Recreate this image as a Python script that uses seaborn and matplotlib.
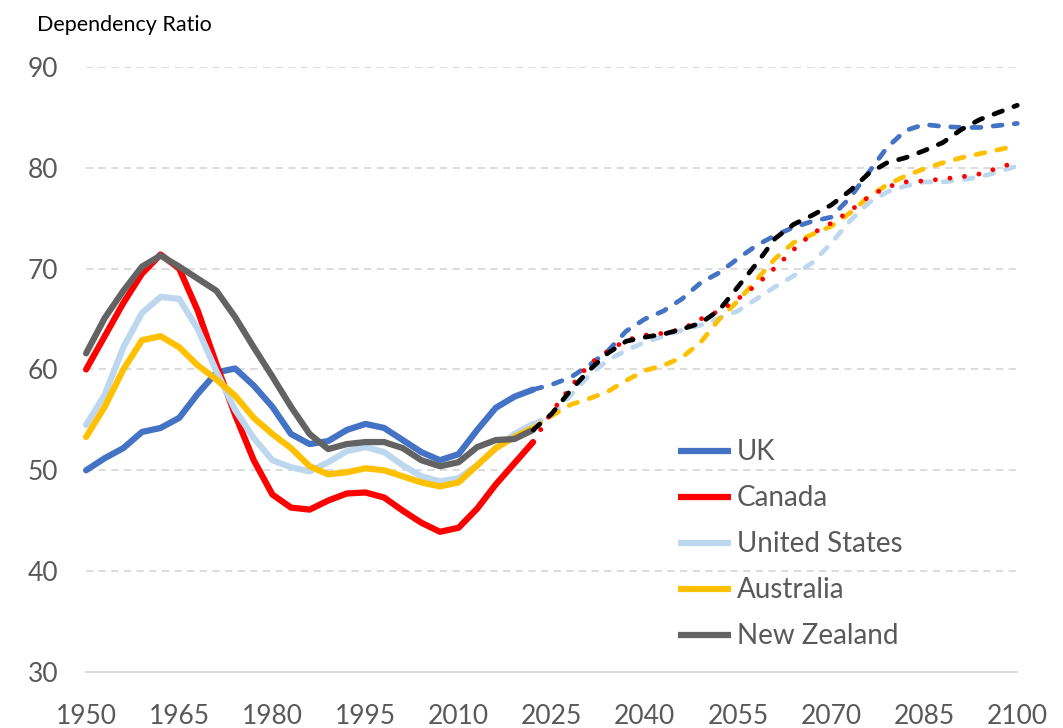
import seaborn as sns
import pandas as pd
import matplotlib as mpl
from matplotlib import pyplot as plt
from matplotlib.lines import Line2D

# historical values (solid lines)
hist_years = [1950, 1953, 1956, 1959, 1962, 1965, 1968, 1971, 1974, 1977, 1980, 1983, 1986,
              1989, 1992, 1995, 1998, 2001, 2004, 2007, 2010, 2013, 2016, 2019, 2022]
uk_hist = [50.0, 51.2, 52.2, 53.8, 54.2, 55.2, 57.6, 59.7, 60.1, 58.4, 56.3, 53.6, 52.6,
           52.9, 54.0, 54.6, 54.2, 53.0, 51.8, 51.0, 51.6, 54.0, 56.2, 57.3, 58.0]
canada_hist = [60.0, 63.3, 66.6, 69.5, 71.4, 70.0, 65.8, 60.5, 55.5, 51.0, 47.6, 46.3, 46.1,
               47.0, 47.7, 47.8, 47.3, 46.0, 44.8, 43.9, 44.3, 46.2, 48.6, 50.7, 52.8]
us_hist = [54.5, 57.5, 62.2, 65.6, 67.2, 67.0, 64.0, 59.8, 56.0, 53.2, 51.0, 50.3, 49.9,
           50.8, 51.9, 52.3, 51.8, 50.5, 49.4, 48.9, 49.2, 50.5, 52.2, 53.6, 54.6]
aus_hist = [53.3, 56.3, 60.0, 62.9, 63.3, 62.2, 60.4, 59.0, 57.4, 55.2, 53.6, 52.2, 50.4,
            49.6, 49.8, 50.2, 50.0, 49.4, 48.8, 48.4, 48.8, 50.5, 52.2, 53.3, 54.2]
nz_hist = [61.6, 65.1, 67.8, 70.2, 71.3, 70.2, 69.0, 67.8, 65.2, 62.2, 59.3, 56.3, 53.6,
           52.1, 52.6, 52.8, 52.8, 52.2, 51.0, 50.4, 50.8, 52.3, 53.0, 53.1, 54.0]

# projections (dashed / dotted lines)
proj_years = [2022, 2025, 2028, 2031, 2034, 2037, 2040, 2043, 2046, 2049, 2052, 2055, 2058, 2061,
              2064, 2067, 2070, 2073, 2076, 2079, 2082, 2085, 2088, 2091, 2094, 2097, 2100]
uk_proj = [58.0, 58.5, 59.2, 60.4, 61.8, 63.8, 65.0, 65.8, 67.0, 68.6, 69.6, 71.0, 72.3, 73.3,
           74.1, 74.7, 75.1, 77.0, 79.5, 82.0, 83.7, 84.3, 84.1, 84.0, 84.0, 84.2, 84.4]
canada_proj = [52.8, 55.8, 58.2, 60.5, 61.8, 62.9, 63.4, 63.6, 64.0, 65.0, 65.8, 67.0, 68.4, 70.1,
               71.9, 73.5, 74.5, 75.7, 77.1, 78.1, 78.6, 78.7, 78.9, 79.1, 79.4, 80.0, 80.6]
us_proj = [54.6, 55.4, 57.4, 59.4, 60.9, 61.9, 62.7, 63.3, 63.9, 64.4, 65.1, 65.8, 67.0, 68.2,
           69.3, 70.6, 72.5, 74.7, 76.5, 77.6, 78.2, 78.6, 78.6, 78.8, 79.1, 79.6, 80.2]
aus_proj = [54.2, 55.4, 56.5, 57.1, 57.8, 58.9, 59.9, 60.4, 61.2, 62.7, 65.0, 66.8, 68.9, 71.0,
            72.6, 73.4, 74.2, 75.5, 77.1, 78.3, 79.2, 79.9, 80.5, 81.0, 81.4, 81.8, 82.2]
nz_proj = [54.0, 55.6, 57.9, 59.9, 61.6, 62.8, 63.2, 63.5, 64.0, 64.6, 65.9, 68.2, 70.5, 73.0,
           74.4, 75.3, 76.3, 77.7, 79.4, 80.5, 81.0, 81.7, 82.5, 83.8, 84.8, 85.5, 86.2]

countries = ["UK", "Canada", "United States", "Australia", "New Zealand"]
hist_vals = [uk_hist, canada_hist, us_hist, aus_hist, nz_hist]
proj_vals = [uk_proj, canada_proj, us_proj, aus_proj, nz_proj]

hist_colors = ["#4472C4", "#FF0000", "#BDD7EE", "#FFC000", "#636363"]
proj_colors = ["#4472C4", "#FF0000", "#BDD7EE", "#FFC000", "#000000"]

sns.set_style("white")
plt.rcParams["font.family"] = ["Lato", "DejaVu Sans"]

fig = plt.figure(figsize=(10.63, 7.28), dpi=100)
ax = fig.add_axes([0.081, 0.077, 0.876, 0.831])

for name, vals, col in zip(countries, hist_vals, hist_colors):
    df = pd.DataFrame({"year": hist_years, "ratio": vals})
    sns.lineplot(data=df, x="year", y="ratio", ax=ax, color=col, lw=4.5,
                 solid_capstyle="round", solid_joinstyle="round", clip_on=False)

dash = (1.9, 2.6)
for name, vals, col in zip(countries, proj_vals, proj_colors):
    df = pd.DataFrame({"year": proj_years, "ratio": vals})
    if name == "Canada":
        sns.lineplot(data=df, x="year", y="ratio", ax=ax, color=col, lw=3.5,
                     dashes=False, clip_on=False, zorder=3)
        ax.lines[-1].set_linestyle((0, (0.01, 3.0)))
        ax.lines[-1].set_dash_capstyle("round")
    else:
        sns.lineplot(data=df, x="year", y="ratio", ax=ax, color=col, lw=3.4,
                     clip_on=False, zorder=3 if name == "New Zealand" else 2)
        ax.lines[-1].set_linestyle((0, dash))
        ax.lines[-1].set_dash_capstyle("round")

ax.set_xlim(1950, 2100)
ax.set_ylim(30, 90)
ax.set_xticks(range(1950, 2101, 15))
ax.set_yticks(range(30, 91, 10))
ax.set_xlabel("")
ax.set_ylabel("")
for y in range(40, 91, 10):
    ax.axhline(y, color="#D9D9D9", lw=1.3, ls=(0, (4, 3)), zorder=0)
for s in ["top", "right", "left"]:
    ax.spines[s].set_visible(False)
ax.spines["bottom"].set_color("#D9D9D9")
ax.spines["bottom"].set_linewidth(1.3)
ax.tick_params(axis="both", length=0, labelsize=19, labelcolor="#595959")
ax.tick_params(axis="x", pad=23)
ax.tick_params(axis="y", pad=20)

fig.text(0.035, 0.966, "Dependency Ratio", fontsize=15.5, color="black", va="center", ha="left")

handles = [Line2D([0], [0], color=c, lw=4.5, solid_capstyle="butt") for c in hist_colors]
ax.legend(handles, countries, loc="upper left", bbox_to_anchor=(0.624, 0.403), frameon=False,
          fontsize=20, handlelength=1.9, handletextpad=0.2, labelspacing=0.72,
          labelcolor="#595959", borderaxespad=0)

fig.savefig("out.png", dpi=100)
